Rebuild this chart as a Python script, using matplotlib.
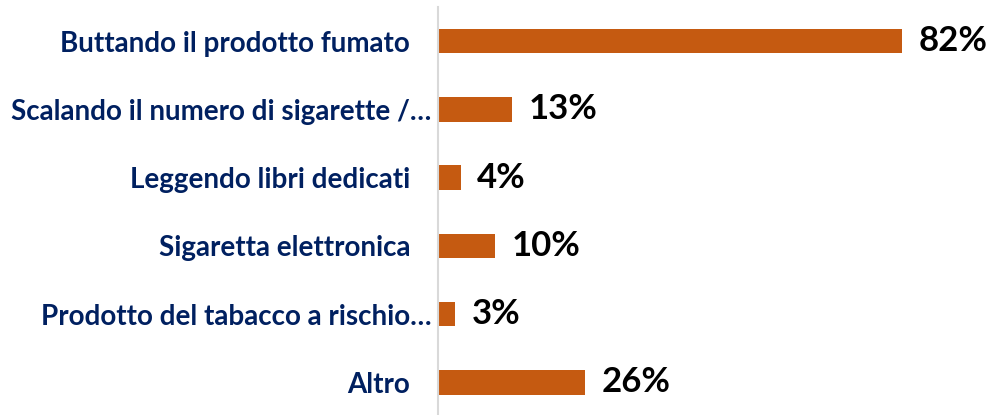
import matplotlib
matplotlib.use("Agg")
import matplotlib.pyplot as plt
import matplotlib.transforms as mtransforms

# Data
categories = [
    "Buttando il prodotto fumato",
    "Scalando il numero di sigarette /…",
    "Leggendo libri dedicati",
    "Sigaretta elettronica",
    "Prodotto del tabacco a rischio…",
    "Altro",
]
values = [82, 13, 4, 10, 3, 26]

bar_color = "#C55A11"
label_color = "#002060"

plt.rcParams["font.family"] = ["Lato", "DejaVu Sans"]

fig = plt.figure(figsize=(9.89, 4.15), dpi=100)
ax = fig.add_axes([438 / 989, 0.0, 1 - 438 / 989, 408 / 415])

positions = list(range(len(categories)))
ax.barh(positions, values, height=0.36, color=bar_color, zorder=2)

# Value labels to the right of each bar
for pos, val in zip(positions, values):
    ax.annotate(f"{val}%", xy=(val, pos), xytext=(12, 0), textcoords="offset points",
                ha="left", va="center", fontsize=25, fontweight="bold", color="black")

ax.set_xlim(0, 97.3)
ax.set_ylim(5.48, -0.5)

ax.set_yticks(positions)
ax.set_yticklabels(categories, fontsize=20, fontweight="bold", color=label_color)
ax.tick_params(axis="y", length=0, pad=20)
ax.set_xticks([])

# truncated labels sit a bit closer to the axis, like in the original
shift = mtransforms.ScaledTranslation(0.21, 0, fig.dpi_scale_trans)
for lbl in ax.get_yticklabels():
    if lbl.get_text().endswith("…"):
        lbl.set_transform(lbl.get_transform() + shift)

for side in ["top", "right", "bottom"]:
    ax.spines[side].set_visible(False)
ax.spines["left"].set_color("#D9D9D9")
ax.spines["left"].set_linewidth(1.5)

fig.savefig("out.png", dpi=100)
